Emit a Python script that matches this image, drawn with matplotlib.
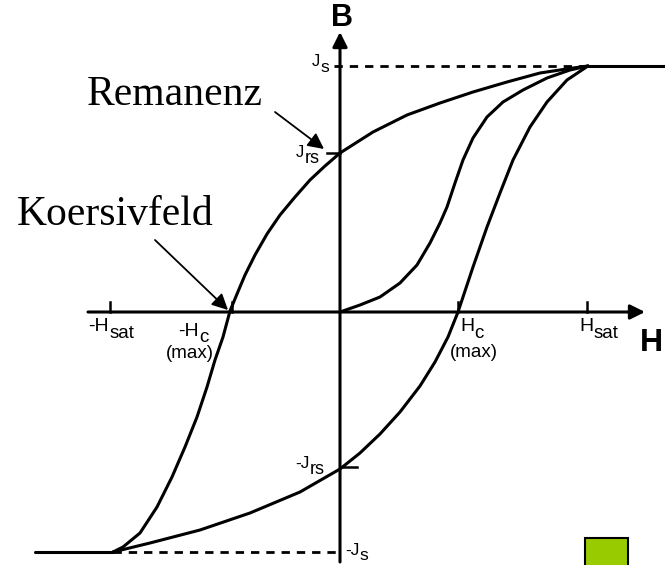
import matplotlib
matplotlib.use("Agg")
import matplotlib.pyplot as plt
from matplotlib.patches import Rectangle

# ---- data (H, B in schematic units, origin at the axes crossing) ----
upper_H = [248, 233, 200, 167, 133, 100, 67, 33, 0, -15, -30, -45, -60, -73, -85, -95, -103, -110,
           -117, -125, -133, -143, -155, -168, -183, -200, -217, -227]
upper_B = [246, 244, 239, 230, 220, 209, 197, 180, 159, 146, 132, 115, 97, 78, 57, 37, 18, 1,
           -25, -48, -75, -105, -135, -165, -195, -221, -235, -240]

lower_H = [-227, -190, -140, -90, -40, 0, 20, 40, 60, 80, 95, 108, 118, 133, 147, 160, 173, 190, 207, 227, 248]
lower_B = [-240, -231, -218, -201, -180, -157, -141, -122, -100, -74, -50, -25, 0, 45, 85, 119, 152, 185, 210, 232, 246]

virgin_H = [0, 20, 40, 60, 77, 90, 100, 107, 115, 123, 133, 147, 163, 183, 207, 230, 248]
virgin_B = [0, 7, 15, 29, 47, 69, 89, 105, 129, 152, 174, 195, 210, 222, 234, 242, 246]

sat_top_H = [248, 325]
sat_top_B = [246, 246]
sat_bot_H = [-305, -227]
sat_bot_B = [-240, -240]

Js, Jrs, mJrs, mJs = 246, 159, -155, -240
h_ticks = [-230, -108, 118, 247]

fig = plt.figure(figsize=(6.65, 5.65), dpi=100)
ax = fig.add_axes([0, 0, 1, 1])
ax.set_xlim(-340, 325)
ax.set_ylim(-253, 312)
ax.axis('off')

lw = 2.2
for hh, bb in [(upper_H, upper_B), (lower_H, lower_B), (virgin_H, virgin_B),
               (sat_top_H, sat_top_B), (sat_bot_H, sat_bot_B)]:
    ax.plot(hh, bb, color='black', lw=lw, solid_capstyle='round', solid_joinstyle='round')

# axes with arrows
ax.annotate('', xy=(305, 0), xytext=(-252, 0),
            arrowprops=dict(arrowstyle='-|>', lw=lw, color='black', mutation_scale=22, shrinkA=0, shrinkB=0))
ax.annotate('', xy=(0, 280), xytext=(0, -250),
            arrowprops=dict(arrowstyle='-|>', lw=lw, color='black', mutation_scale=22, shrinkA=0, shrinkB=0))

# dashed saturation lines
ax.plot([-6, 248], [Js, Js], color='black', lw=2.0, dashes=(3, 2.5))
ax.plot([-227, 0], [mJs, mJs], color='black', lw=2.0, dashes=(3, 2.5))

# ticks
for t in h_ticks:
    ax.plot([t, t], [0, 10], color='black', lw=1.8)
ax.plot([-13, 0], [Jrs, Jrs], color='black', lw=1.8)
ax.plot([0, 17], [mJrs, mJrs], color='black', lw=1.8)

sans = 'Liberation Sans'


def sublabel(x, y, main, sub, fs_main, fs_sub, drop=2.5):
    t = ax.text(x, y, main, fontsize=fs_main, family=sans, ha='left', va='top')
    ax.annotate(sub, xy=(1, 0), xycoords=t, xytext=(0.3, -drop), textcoords='offset points',
                fontsize=fs_sub, family=sans, ha='left', va='baseline')
    return t


sublabel(-252, -6, '-H', 'sat', 14, 13.5)
sublabel(-162, -11, '-H', 'c', 14, 13.5, drop=1.5)
ax.text(-174, -33, '(max)', fontsize=13.5, family=sans, ha='left', va='top')
sublabel(120, -6, 'H', 'c', 14, 13.5)
ax.text(110, -32, '(max)', fontsize=13.5, family=sans, ha='left', va='top')
sublabel(239, -6, 'H', 'sat', 14, 13.5)

sublabel(-28, 258, 'J', 's', 12, 12.5, drop=2)
sublabel(-44, 167, 'J', 'rs', 12, 13, drop=2)
sublabel(-45, -144, '-J', 'rs', 12.5, 13, drop=2)
sublabel(5, -231, '-J', 's', 12.5, 12.5, drop=1.2)

ax.text(2, 294, 'B', fontsize=22, family=sans, weight='bold', ha='center', va='center')
ax.text(311, -31, 'H', fontsize=23, family=sans, weight='bold', ha='center', va='center')

serif = 'Liberation Serif'
ax.text(-165, 217, 'Remanenz', fontsize=30, family=serif, ha='center', va='center')
ax.text(-225, 97, 'Koersivfeld', fontsize=30, family=serif, ha='center', va='center')

ax.annotate('', xy=(-16, 163), xytext=(-65, 200),
            arrowprops=dict(arrowstyle='-|>', lw=1.3, color='black', mutation_scale=24, shrinkA=0, shrinkB=0))
ax.annotate('', xy=(-112, 2), xytext=(-185, 72),
            arrowprops=dict(arrowstyle='-|>', lw=1.3, color='black', mutation_scale=24, shrinkA=0, shrinkB=0))

ax.add_patch(Rectangle((245, -260), 43, 34, facecolor='#99cc00', edgecolor='black', lw=1.5))

fig.savefig('out.png', dpi=100)
